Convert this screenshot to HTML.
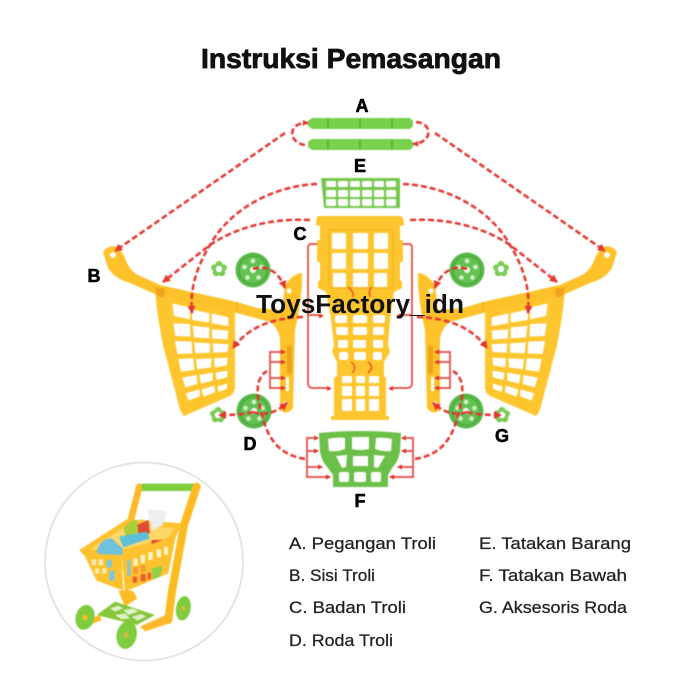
<!DOCTYPE html>
<html><head><meta charset="utf-8"><style>
html,body{margin:0;padding:0;background:#fff}
svg{display:block}
.d{fill:none;stroke:#e5352f;stroke-width:2.5;stroke-dasharray:6 3}
.s{fill:none;stroke:#e5473f;stroke-width:1.7}
.t{font-family:"Liberation Sans",sans-serif;fill:#111}
.l{font-family:"Liberation Sans",sans-serif;font-weight:bold;font-size:18px;fill:#000;stroke:#000;stroke-width:.6;text-anchor:middle}
.g{font-family:"Liberation Sans",sans-serif;font-size:16.5px;fill:#222;stroke:#222;stroke-width:.25}
</style></head><body>
<svg width="700" height="700" viewBox="0 0 700 700" xmlns="http://www.w3.org/2000/svg">
<defs>
<marker id="a" viewBox="0 0 8 8" refX="7" refY="4" markerWidth="8" markerHeight="8" markerUnits="userSpaceOnUse" orient="auto"><path d="M0,0L8,4L0,8Z" fill="#e5352f"/></marker>
<marker id="b" viewBox="0 0 8 8" refX="7" refY="4" markerWidth="6" markerHeight="6" markerUnits="userSpaceOnUse" orient="auto"><path d="M0,0L8,4L0,8Z" fill="#e5352f"/></marker>
<g id="wheel">
<circle r="17.5" fill="#58b947"/><circle r="13.5" fill="#63c252"/><circle r="14" fill="none" stroke="#48a53a" stroke-width="1"/>
<circle r="3" fill="#fff"/>
<circle cx="0" cy="-9" r="2.300" fill="#d8f2cf"/><circle cx="8.5" cy="-3" r="2.300" fill="#d8f2cf"/><circle cx="5.500" cy="7.500" r="2.300" fill="#d8f2cf"/><circle cx="-5.500" cy="7.500" r="2.300" fill="#d8f2cf"/><circle cx="-8.500" cy="-3" r="2.300" fill="#d8f2cf"/>
</g>
<g id="flower">
<g fill="#7ccb55"><circle cx="0" cy="-4.500" r="3.500"/><circle cx="4.400" cy="-1.300" r="3.500"/><circle cx="2.700" cy="3.800" r="3.500"/><circle cx="-2.700" cy="3.800" r="3.500"/><circle cx="-4.400" cy="-1.300" r="3.500"/></g>
<circle r="3.200" fill="#fff"/>
</g>
<g id="side">
<!-- basket panel -->
<g transform="translate(140,280) scale(.33333)">
<path d="M45,30L285,95L285,320Q285,345 260,352L132,408Q120,395 115,370L70,200Q50,100 45,30Z" fill="#fdc62e"/>
<g fill="#fff">
<path d="M97,70L150,83L150,118L102,108Z"/><path d="M155,88L208,100L208,128L157,120Z"/><path d="M215,100L265,112L265,138L215,130Z"/>
<path d="M100,130L150,132L152,170L106,168Z"/><path d="M158,138L208,142L208,175L162,172Z"/><path d="M215,148L265,152L263,178L217,176Z"/>
<path d="M105,183L155,185L157,220L112,222Z"/><path d="M162,187L210,190L210,218L166,220Z"/><path d="M218,190L265,192L263,216L220,218Z"/>
<path d="M115,237L160,235L163,270L123,275Z"/><path d="M168,237L215,235L213,262L172,268Z"/><path d="M222,235L263,233L261,256L224,262Z"/>
<path d="M127,293L170,285L172,312L136,322Z"/><path d="M178,285L218,278L218,302L183,311Z"/><path d="M227,278L263,272L261,292L230,300Z"/>
<path d="M138,340L178,328L180,348L146,362Z"/><path d="M185,328L223,317L225,337L190,350Z"/><path d="M232,320L262,310L260,327L235,336Z"/>
</g>
</g>
<!-- tube -->
<path d="M103,252Q107,246 114,246Q122,250 125,258Q128,268 136,274L160,285L237,302L257,308L275,325L270,322L237,313L155,294L130,283Q115,279 108,268Z" fill="#fdc22a"/>
<circle cx="113" cy="255" r="3" fill="#fff"/>
<path d="M155,287L165,289L164,298L157,296Z" fill="#f2a21d"/>
<path d="M237,302L238,313" stroke="#f2b01f" stroke-width="1.400" fill="none"/>
<!-- post -->
<path d="M285,285Q294,273 302,273L302,285Q300,310 295,330L293,408Q287,416 280,410L280,345Q281,330 270,322L257,308L282,310Z" fill="#fdc22a"/>
<rect x="287" y="346" width="5" height="28" rx="2" fill="#eea31c"/>
<rect x="286" y="377" width="3" height="14" fill="#fff"/>
<circle cx="285" cy="404" r="2.500" fill="#fff"/><circle cx="289" cy="291" r="2.500" fill="#fff"/>
<!-- wheels -->
<use href="#wheel" x="253" y="270"/>
<use href="#wheel" x="254" y="411"/>
<use href="#flower" x="219" y="269"/>
<use href="#flower" x="218" y="415"/>
<!-- connectors -->
<path class="d" d="M285,133L115,251" marker-end="url(#a)"/>
<path class="d" d="M317,184C270,186 228,212 210,245C195,270 190,290 192,313" marker-end="url(#a)"/>
<path class="d" d="M310,220C270,218 235,228 210,245L163,282" marker-end="url(#a)"/>
<path class="d" d="M253,269C270,264 280,275 285,288" marker-end="url(#a)"/>
<path class="d" d="M253,412Q245,415 219,415" marker-end="url(#a)"/>
<path class="d" d="M253,412Q270,418 287,403" marker-end="url(#a)"/>
<path class="d" d="M303,317C270,318 248,328 233,348" marker-end="url(#a)"/>
<path class="d" d="M305,459C280,455 268,440 262,415C256,395 255,378 267,371"/>
<!-- post bracket -->
<path class="s" d="M284,352H270V388H284M270,362H284M270,378H284"/>
<path d="M286,352l-5,-2.500v5zM286,362l-5,-2.500v5zM286,378l-5,-2.500v5zM286,388l-5,-2.500v5z" fill="#e5352f"/>
<!-- body bracket -->
<path class="s" d="M317,244H311Q308,244 308,248V383Q308,388 313,388H330M308,315H322"/>
<path d="M332,388.500l-5,-2.500v5zM324,316l-5,-2.500v5z" fill="#e5352f"/>
<!-- tray bracket -->
<path class="s" d="M318,438H307V477H330M307,451H318M307,467H322"/>
<path d="M319,438l-5,-2.500v5zM319,451l-5,-2.500v5zM323,467l-5,-2.500v5zM331,477l-5,-2.500v5z" fill="#e5352f"/>
</g>
</defs>

<g style="filter:blur(.45px)">
<!-- A bars -->
<path d="M308,121L312,118H410L413,121V126L410,129H312L308,126Z" fill="#77d14a"/>
<path d="M308,142L312,139H410L413,142V147L410,150H312L308,147Z" fill="#77d14a"/>
<path d="M328,118v11M360,118v11M392,118v11M328,139v11M360,139v11M392,139v11" stroke="#4fa833" stroke-width="1.200"/>

<!-- E grid -->
<path d="M321,178H400V208H324Z" fill="#78c850"/>
<g fill="#fff">
<rect x="326" y="181" width="10" height="6" rx="1.500"/><rect x="338" y="181" width="10" height="6" rx="1.500"/><rect x="350" y="181" width="10" height="6" rx="1.500"/><rect x="362" y="181" width="10" height="6" rx="1.500"/><rect x="374" y="181" width="10" height="6" rx="1.500"/><rect x="386" y="181" width="10" height="6" rx="1.500"/>
<rect x="326" y="190" width="10" height="7" rx="1.500"/><rect x="338" y="190" width="10" height="7" rx="1.500"/><rect x="350" y="190" width="10" height="7" rx="1.500"/><rect x="362" y="190" width="10" height="7" rx="1.500"/><rect x="374" y="190" width="10" height="7" rx="1.500"/><rect x="386" y="190" width="10" height="7" rx="1.500"/>
<rect x="326" y="199" width="10" height="7" rx="1.500"/><rect x="338" y="199" width="10" height="7" rx="1.500"/><rect x="350" y="199" width="10" height="7" rx="1.500"/><rect x="362" y="199" width="10" height="7" rx="1.500"/><rect x="374" y="199" width="10" height="7" rx="1.500"/><rect x="386" y="199" width="10" height="7" rx="1.500"/>
</g>

<!-- C body -->
<path d="M318,216H401Q404,218 404,225L400,226V240L403,240V262L400,262V280L402,282V288L394,292L390,320L388,345L390,352L384,362V376L386,378V416H389V420H331V416H334V378L337,376V362L332,352L334,345L331,320L326,292L318,288V282L320,280V262L317,262V240L320,240V226L316,225Q316,218 318,216Z" fill="#fdc62e"/>
<path d="M329,230H393V288H329Z" fill="none" stroke="#eeb020" stroke-width="1"/>
<g fill="#fff">
<rect x="332" y="233" width="14" height="16" rx="1"/><rect x="353" y="233" width="15" height="16" rx="1"/><rect x="374" y="233" width="14" height="16" rx="1"/>
<rect x="332" y="253" width="14" height="16" rx="1"/><rect x="353" y="253" width="15" height="16" rx="1"/><rect x="374" y="253" width="14" height="16" rx="1"/>
<rect x="333" y="273" width="13" height="14" rx="1"/><rect x="353" y="273" width="15" height="14" rx="1"/><rect x="374" y="273" width="13" height="14" rx="1"/>
<rect x="335" y="315" width="12" height="8" rx="2"/><rect x="353" y="315" width="14" height="8" rx="2"/><rect x="373" y="315" width="12" height="8" rx="2"/>
<rect x="336" y="327" width="12" height="8" rx="2"/><rect x="353" y="327" width="14" height="8" rx="2"/><rect x="373" y="327" width="11" height="8" rx="2"/>
<rect x="338" y="340" width="10" height="8" rx="2"/><rect x="353" y="340" width="13" height="8" rx="2"/><rect x="373" y="340" width="10" height="8" rx="2"/>
<rect x="339" y="352" width="9" height="8" rx="2"/><rect x="354" y="352" width="12" height="8" rx="2"/><rect x="373" y="352" width="9" height="8" rx="2"/>
<rect x="342" y="376" width="10" height="7" rx="1"/><rect x="356" y="376" width="9" height="7" rx="1"/><rect x="369" y="376" width="10" height="7" rx="1"/>
<rect x="342" y="386" width="10" height="10" rx="1"/><rect x="356" y="386" width="9" height="10" rx="1"/><rect x="369" y="386" width="10" height="10" rx="1"/>
<rect x="342" y="399" width="10" height="12" rx="1"/><rect x="356" y="399" width="9" height="12" rx="1"/><rect x="369" y="399" width="10" height="12" rx="1"/>
</g>
<path d="M348,287Q354,291 353,297M372,287Q368,291 370,297M351,362Q358,367 352,373M368,362Q375,367 368,373" fill="none" stroke="#e8451f" stroke-width="1.300"/>

<!-- F tray -->
<path d="M319,433Q360,429 401,433L400,452Q398,462 392,468L388,475V487H333V475L328,468Q322,462 320,452Z" fill="#6cc04a"/>
<g fill="#fff">
<path d="M328,439Q337,437 345,438L345,449Q337,452 329,451Z"/><path d="M352,437H369L369,449Q360,451 352,449Z"/><path d="M376,438Q384,437 392,439L391,451Q383,452 375,449Z"/>
<path d="M336,456L347,455L346,467L342,468Z"/><path d="M353,456H368V466H353Z"/><path d="M374,455L385,456L378,468L374,467Z"/>
<rect x="339" y="472" width="10" height="10" rx="2"/><rect x="354" y="472" width="12" height="10" rx="2"/><rect x="371" y="472" width="10" height="10" rx="2"/>
</g>

<!-- sides -->
<use href="#side"/>
<use href="#side" transform="matrix(-1 0 0 1 720 0)"/>

<!-- A loops -->
<path class="d" d="M305,145C288,143 287,122 308,123" marker-end="url(#b)"/>
<path class="d" d="M416,122C433,123 433,143 413,144" marker-end="url(#b)"/>

<!-- photo -->
<circle cx="144" cy="561.500" r="99" fill="#fff" stroke="#c9c9c9" stroke-width="1"/>
<g transform="translate(40,460) scale(.33333)">
<path d="M298,80L270,190" stroke="#fdb92b" stroke-width="20" fill="none" stroke-linecap="round"/>
<path d="M305,82H475" stroke="#7fcc3f" stroke-width="22"/>
<path d="M470,80L432,195L395,400L385,480" stroke="#fdbb22" stroke-width="24" fill="none" stroke-linecap="round"/>
<path d="M322,148L378,152L372,200L335,215Z" fill="#eee"/>
<path d="M250,205Q275,175 315,180L325,215L260,245Z" fill="#a8cf3a"/>
<path d="M290,195L325,180L330,220L295,225Z" fill="#e04b35"/>
<path d="M118,270L260,178L425,190L400,248L245,292L135,290Z" fill="#fdc22e"/>
<path d="M150,268L262,195L405,205L385,232L245,270Z" fill="#fdd868"/>
<path d="M290,195L325,180L330,220L295,225Z" fill="#e04b35"/>
<path d="M250,205Q275,178 290,180L295,215L260,235Z" fill="#a8cf3a"/>
<path d="M325,150L380,155L368,195L335,212Z" fill="#eeeeee"/>
<path d="M170,275Q180,235 215,235L248,265V285L175,282Z" fill="#6fc2de"/>
<path d="M237,230L320,215L330,235L250,262Z" fill="#5fbfd8"/>
<path d="M335,240H385V265H335Z" fill="#e8472f"/>
<path d="M135,290L245,290L250,392L170,362Z" fill="#fdc22e"/>
<path d="M245,285L408,225L385,340L255,395Z" fill="#fdc22e"/>
<g fill="#f7e9b0"><rect x="155" y="298" width="14" height="18"/><rect x="176" y="298" width="14" height="18"/><rect x="165" y="325" width="13" height="16"/><rect x="186" y="325" width="13" height="16"/></g>
<g fill="#7cc6de"><rect x="200" y="300" width="16" height="22"/><rect x="208" y="332" width="16" height="30"/><rect x="262" y="300" width="9" height="48"/></g>
<g fill="#fff3c8"><rect x="280" y="295" width="13" height="22"/><rect x="302" y="285" width="13" height="24"/><rect x="325" y="276" width="13" height="24"/><rect x="350" y="268" width="13" height="24"/><rect x="372" y="260" width="12" height="24"/></g>
<g fill="#ef5a2e"><rect x="278" y="350" width="13" height="18"/><rect x="302" y="342" width="15" height="22"/><rect x="323" y="338" width="10" height="20"/></g>
<g fill="#f59a35"><rect x="280" y="322" width="14" height="20"/><rect x="302" y="316" width="14" height="20"/></g>
<path d="M335,325L368,318L360,350L338,358Z" fill="#8fcf4a"/>
<path d="M235,392L278,392L292,415L255,440Z" fill="#fdbb22"/>
<path d="M300,500L392,458L394,488L315,514Z" fill="#fdb92b"/>
<path d="M170,465L225,425L345,465L290,495Z" fill="#86c83c"/>
<g fill="#dff0c8"><path d="M210,445L235,437L250,445L225,455Z"/><path d="M250,450L280,445L295,455L265,465Z"/><path d="M225,465L255,460L270,475L245,478Z"/><path d="M275,470L305,462L318,470L292,482Z"/></g>
<path d="M140,480L180,465L185,480L150,495Z" fill="#fdbb22"/>
<ellipse cx="135" cy="472" rx="28" ry="38" fill="#7fcc3f" transform="rotate(15 135 472)"/><circle cx="135" cy="472" r="8" fill="#fdbb22"/>
<ellipse cx="260" cy="525" rx="30" ry="42" fill="#7fcc3f" transform="rotate(12 260 525)"/><circle cx="258" cy="525" r="8" fill="#d9b93a"/>
<ellipse cx="430" cy="445" rx="22" ry="37" fill="#7fcc3f" transform="rotate(10 430 445)"/><circle cx="430" cy="445" r="7" fill="#d9b93a"/>
</g>
</g>

<!-- text -->
<text class="t" x="201" y="68" font-size="28" font-weight="bold" stroke="#111" stroke-width=".8" textLength="300" lengthAdjust="spacingAndGlyphs">Instruksi Pemasangan</text>
<text class="l" x="362" y="112">A</text>
<text class="l" x="360" y="172">E</text>
<text class="l" x="300" y="240">C</text>
<text class="l" x="94" y="282">B</text>
<text class="l" x="250" y="450">D</text>
<text class="l" x="360" y="507">F</text>
<text class="l" x="502" y="442">G</text>
<text class="t" x="256" y="313" font-size="25.500" font-weight="bold" fill="#000" textLength="208" lengthAdjust="spacingAndGlyphs">ToysFactory_idn</text>
<text class="g" x="289" y="549" textLength="147" lengthAdjust="spacingAndGlyphs">A. Pegangan Troli</text>
<text class="g" x="289" y="581" textLength="86" lengthAdjust="spacingAndGlyphs">B. Sisi Troli</text>
<text class="g" x="289" y="613" textLength="117" lengthAdjust="spacingAndGlyphs">C. Badan Troli</text>
<text class="g" x="289" y="646" textLength="104" lengthAdjust="spacingAndGlyphs">D. Roda Troli</text>
<text class="g" x="479" y="549" textLength="152" lengthAdjust="spacingAndGlyphs">E. Tatakan Barang</text>
<text class="g" x="479" y="581" textLength="148" lengthAdjust="spacingAndGlyphs">F. Tatakan Bawah</text>
<text class="g" x="479" y="613" textLength="148" lengthAdjust="spacingAndGlyphs">G. Aksesoris Roda</text>
</svg>
</body></html>
